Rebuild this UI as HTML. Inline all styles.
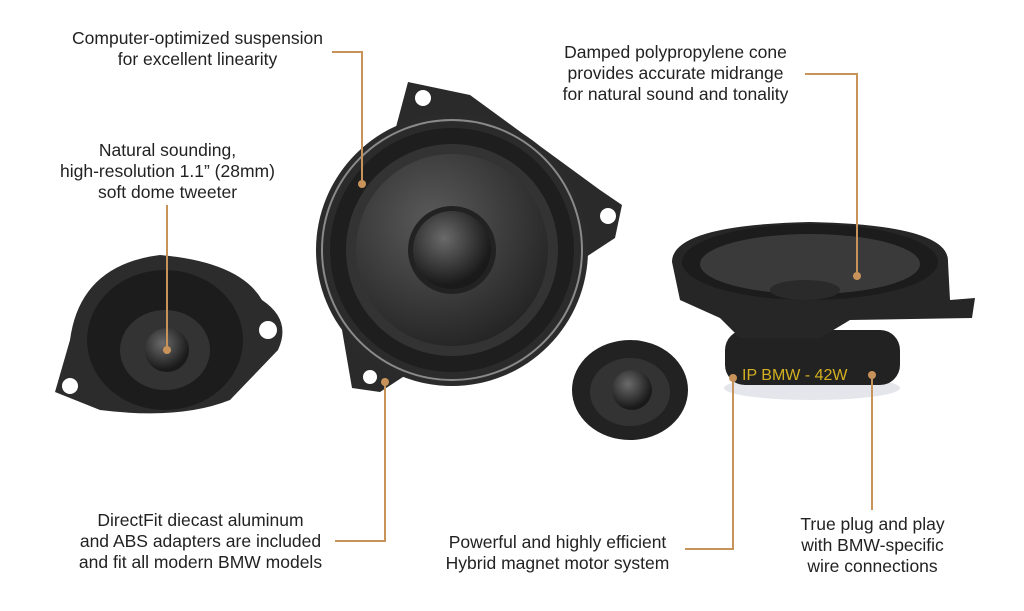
<!DOCTYPE html>
<html><head><style>
body{margin:0;width:1024px;height:611px;background:#fff;overflow:hidden;position:relative;font-family:"Liberation Sans",sans-serif;color:#222}
.t{position:absolute;font-size:17.5px;line-height:21px;text-align:center;white-space:nowrap}
svg{position:absolute;left:0;top:0}
</style></head><body>
<svg width="1024" height="611" viewBox="0 0 1024 611">
<defs>
<radialGradient id="cone" cx="0.4" cy="0.35" r="0.7"><stop offset="0" stop-color="#5a5a5a"/><stop offset="1" stop-color="#232323"/></radialGradient>
<radialGradient id="dome" cx="0.4" cy="0.35" r="0.6"><stop offset="0" stop-color="#6a6a6a"/><stop offset="1" stop-color="#1a1a1a"/></radialGradient>
</defs>
<!-- main speaker flange -->
<polygon points="408,82 470,95 600,190 622,205 615,238 380,392 352,388 342,330" fill="#2a2a2a"/>
<circle cx="423" cy="98" r="8" fill="#fff"/>
<circle cx="608" cy="216" r="8" fill="#fff"/>
<circle cx="370" cy="377" r="7" fill="#fff"/>
<circle cx="452" cy="250" r="136" fill="#2b2b2b"/>
<circle cx="452" cy="250" r="130" fill="none" stroke="#8a8a8a" stroke-width="2"/>
<circle cx="452" cy="250" r="122" fill="#1e1e1e"/>
<circle cx="452" cy="250" r="106" fill="#333"/>
<circle cx="452" cy="250" r="96" fill="url(#cone)"/>
<circle cx="452" cy="250" r="44" fill="#222"/>
<circle cx="452" cy="250" r="39" fill="url(#dome)"/>
<!-- left tweeter -->
<path d="M70,340 Q80,265 160,255 Q240,262 262,300 Q292,320 278,350 L230,400 Q180,420 100,410 L55,392 Z" fill="#2c2c2c"/>
<circle cx="268" cy="330" r="9" fill="#fff"/>
<circle cx="70" cy="386" r="8" fill="#fff"/>
<ellipse cx="165" cy="340" rx="78" ry="70" fill="#1c1c1c"/>
<ellipse cx="165" cy="350" rx="45" ry="40" fill="#333"/>
<circle cx="167" cy="350" r="22" fill="url(#dome)"/>
<!-- small tweeter -->
<ellipse cx="630" cy="390" rx="58" ry="50" fill="#222"/>
<ellipse cx="630" cy="392" rx="40" ry="34" fill="#333"/>
<circle cx="632" cy="390" r="20" fill="url(#dome)"/>
<!-- right woofer -->
<ellipse cx="812" cy="388" rx="88" ry="12" fill="#e4e6ec"/>
<rect x="725" y="330" width="175" height="55" rx="20" fill="#222"/>
<text x="742" y="380" fill="#d4b020" font-size="16" font-family="Liberation Sans">IP BMW - 42W</text>
<path d="M672,262 Q672,225 810,222 Q950,225 948,262 L950,300 L975,298 L972,318 L850,320 L820,338 L740,338 L720,318 L680,300 Z" fill="#262626"/>
<ellipse cx="810" cy="262" rx="128" ry="38" fill="#1c1c1c"/>
<ellipse cx="810" cy="264" rx="110" ry="30" fill="#3a3a3a"/>
<ellipse cx="805" cy="290" rx="35" ry="10" fill="#2a2a2a"/>
<!-- leader lines -->
<g stroke="#c8935a" stroke-width="2" fill="none">
<polyline points="332,52 362,52 362,183"/>
<polyline points="167,205 167,350"/>
<polyline points="805,74 857,74 857,275"/>
<polyline points="385,382 385,541 335,541"/>
<polyline points="733,378 733,549 685,549"/>
<polyline points="872,375 872,510"/>
</g>
<g fill="#c8935a">
<circle cx="362" cy="184" r="4"/><circle cx="167" cy="350" r="4"/><circle cx="857" cy="276" r="4"/>
<circle cx="385" cy="382" r="4"/><circle cx="733" cy="378" r="4"/><circle cx="872" cy="375" r="4"/>
</g>
</svg>
<div class="t" style="left:60px;top:28px;width:275px">Computer-optimized suspension<br>for excellent linearity</div>
<div class="t" style="left:40px;top:140px;width:255px">Natural sounding,<br>high-resolution 1.1” (28mm)<br>soft dome tweeter</div>
<div class="t" style="left:548px;top:42px;width:255px">Damped polypropylene cone<br>provides accurate midrange<br>for natural sound and tonality</div>
<div class="t" style="left:63px;top:510px;width:275px">DirectFit diecast aluminum<br>and ABS adapters are included<br>and fit all modern BMW models</div>
<div class="t" style="left:430px;top:532px;width:255px">Powerful and highly efficient<br>Hybrid magnet motor system</div>
<div class="t" style="left:780px;top:514px;width:185px">True plug and play<br>with BMW-specific<br>wire connections</div>
</body></html>
